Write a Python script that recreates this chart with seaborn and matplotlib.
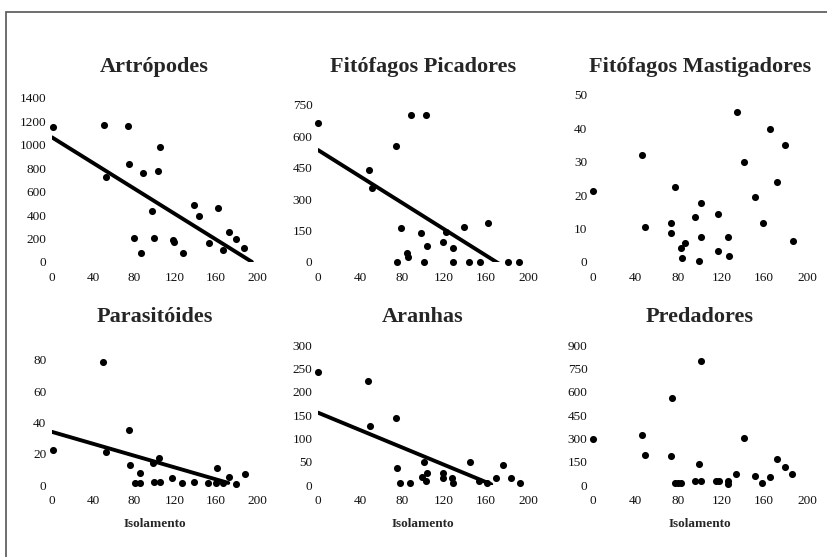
import numpy as np
import pandas as pd
import matplotlib
matplotlib.use("Agg")
import matplotlib.pyplot as plt
from matplotlib.patches import Rectangle
import seaborn as sns

sns.set_theme(style="white")
plt.rcParams["font.family"] = ["Liberation Serif", "DejaVu Serif"]

# ---- data: isolation (x) versus abundance (y) for each group ----
art_x = [1, 51, 74, 105, 75, 53, 89, 103, 98, 139, 143, 162, 80, 100, 118, 119,
         87, 128, 153, 173, 180, 167, 187]
art_y = [1150, 1170, 1161, 979, 837, 723, 757, 777, 438, 487, 396, 458, 208, 208,
         188, 170, 80, 80, 159, 253, 194, 102, 117]

pic_x = [0, 89, 103, 74, 49, 51, 79, 98, 139, 162, 119, 104, 129, 122, 85, 86,
         75, 101, 129, 144, 154, 181, 191]
pic_y = [663, 702, 702, 554, 440, 352, 164, 137, 166, 185, 97, 78, 65, 145, 45, 25,
         0, 0, 0, 0, 0, 0, 0]

mas_x = [0, 46, 49, 77, 73, 73, 86, 82, 83, 101, 95, 101, 99, 117, 126, 117, 127,
         135, 141, 151, 159, 165, 172, 179, 187]
mas_y = [21.4, 32, 10.4, 22.4, 11.6, 8.6, 5.6, 4.1, 1.3, 17.6, 13.6, 7.6, 0.3, 14.4,
         7.6, 3.4, 1.9, 45, 30, 19.6, 11.8, 39.7, 24, 35, 6.4]

par_x = [1, 50, 53, 75, 76, 86, 81, 86, 99, 104, 100, 105, 117, 127, 139, 152,
         161, 160, 167, 173, 180, 188]
par_y = [22.4, 79, 21.3, 35, 12.8, 7.9, 1.5, 1.5, 13.9, 17, 2, 2, 4.3, 1.5, 2, 1.5,
         10.6, 1.5, 1.5, 5.3, 0.4, 6.8]

ara_x = [0, 48, 50, 74, 75, 78, 88, 101, 99, 104, 103, 119, 119, 128, 129, 145,
         153, 161, 170, 176, 184, 192]
ara_y = [243, 223, 126, 144, 37, 4, 4, 50, 18, 25, 9, 26, 16, 16, 4, 50, 9, 5, 16,
         43, 16, 5]

pre_x = [0, 46, 49, 74, 73, 77, 79, 82, 101, 99, 95, 101, 115, 118, 126, 126, 134,
         141, 151, 158, 165, 172, 179, 186]
pre_y = [294, 321, 193, 561, 189, 11, 11, 11, 799, 135, 26, 26, 26, 26, 26, 4, 69,
         300, 60, 11, 53, 165, 114, 69]

titles = ["Artrópodes", "Fitófagos Picadores", "Fitófagos Mastigadores",
          "Parasitóides", "Aranhas", "Predadores"]
x_label = "Isolamento"
x_ticks = [0, 40, 80, 120, 160, 200]
y_ticks = [
    [0, 200, 400, 600, 800, 1000, 1200, 1400],
    [0, 150, 300, 450, 600, 750],
    [0, 10, 20, 30, 40, 50],
    [0, 20, 40, 60, 80],
    [0, 50, 100, 150, 200, 250, 300],
    [0, 150, 300, 450, 600, 750, 900],
]

# fitted trend lines: intercept, slope, last x of the fitted range (None = no fit)
trend_intercept = [1064, 535, None, 34, 155, None]
trend_slope = [-5.45, -3.15, None, -0.19, -0.93, None]
trend_xend = [195, 190, None, 172, 165, None]

xs = [art_x, pic_x, mas_x, par_x, ara_x, pre_x]
ys = [art_y, pic_y, mas_y, par_y, ara_y, pre_y]

# ---- layout (pixel boxes: left, right, top, bottom) ----
W, H = 828, 557
boxes = [
    (52, 257, 98, 262),
    (318, 528, 105, 262),
    (593, 807, 95, 262),
    (52, 257, 360, 485),
    (318, 528, 345, 485),
    (593, 807, 345, 485),
]
title_y = [67, 67, 67, 317, 317, 317]

fig = plt.figure(figsize=(W / 100, H / 100), dpi=100)
fig.patch.set_facecolor("white")

# outer frame
fig.add_artist(Rectangle((6 / W, -0.05), 1.2, 1 - 12 / H + 0.05,
                         transform=fig.transFigure, fill=False,
                         edgecolor="#555555", linewidth=1.2))

for i in range(6):
    l, r, t, b = boxes[i]
    ax = fig.add_axes([l / W, 1 - b / H, (r - l) / W, (b - t) / H])
    df = pd.DataFrame({"x": xs[i], "y": ys[i]})
    sns.scatterplot(data=df, x="x", y="y", ax=ax, color="black", s=26,
                    edgecolor="black", linewidth=0, clip_on=False, zorder=3)
    if trend_intercept[i] is not None:
        lx = np.array([0, trend_xend[i]], dtype=float)
        line = pd.DataFrame({"x": lx,
                             "y": trend_intercept[i] + trend_slope[i] * lx})
        sns.lineplot(data=line, x="x", y="y", ax=ax, color="black",
                     linewidth=2.8, zorder=2)
    ax.set_xlim(0, 200)
    ax.set_ylim(0, y_ticks[i][-1])
    ax.set_xticks(x_ticks)
    ax.set_yticks(y_ticks[i])
    ax.tick_params(axis="both", length=0, labelsize=9.5, colors="#111111")
    ax.tick_params(axis="x", pad=7)
    ax.tick_params(axis="y", pad=4)
    for s in ax.spines.values():
        s.set_visible(False)
    ax.set_ylabel("")
    if i >= 3:
        ax.set_xlabel(x_label, fontsize=9.5, fontweight="bold", labelpad=8)
    else:
        ax.set_xlabel("")
    fig.text((l + r) / 2 / W, 1 - title_y[i] / H, titles[i], ha="center",
             va="center", fontsize=16, fontweight="bold")

fig.savefig("out.png", dpi=100, facecolor="white")
